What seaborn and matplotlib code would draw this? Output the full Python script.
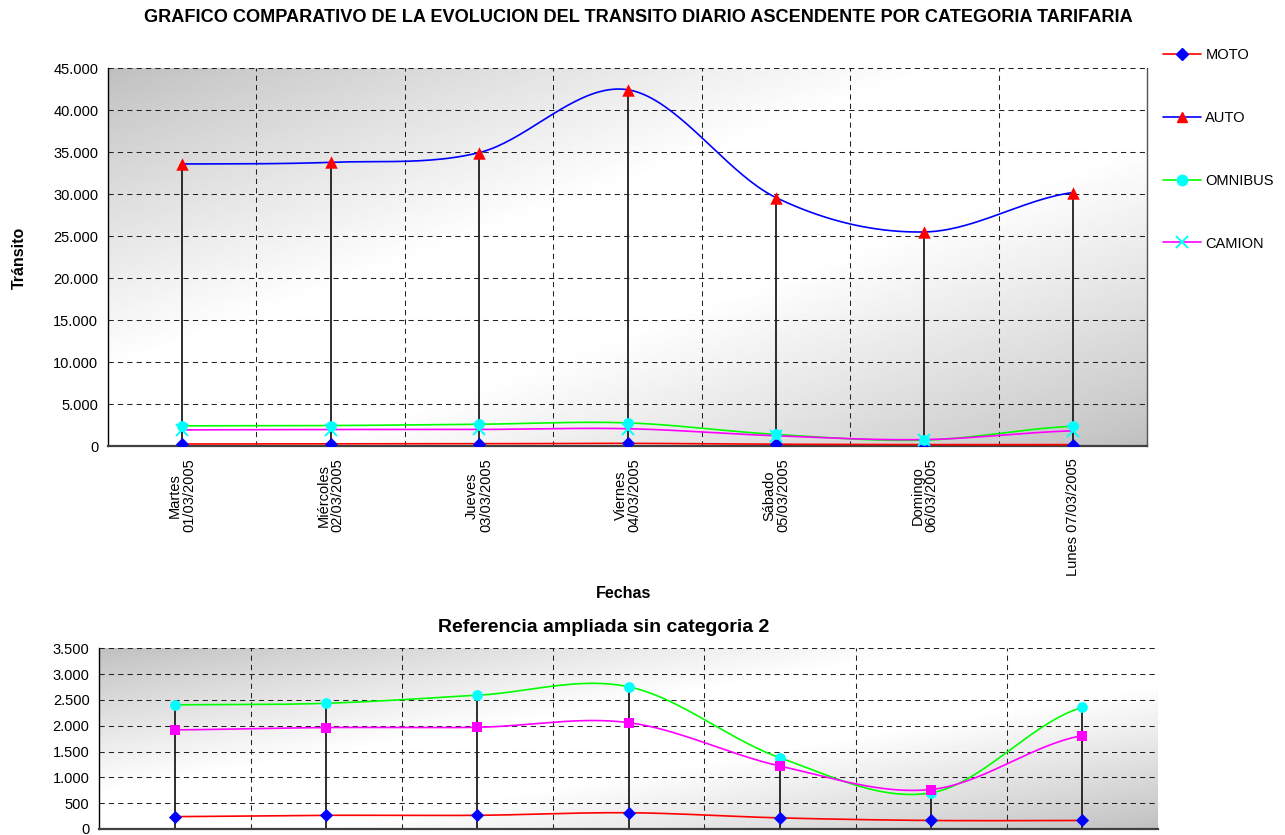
import numpy as np
import pandas as pd
import matplotlib
matplotlib.use("Agg")
import matplotlib.pyplot as plt
import seaborn as sns
from matplotlib.ticker import FuncFormatter, MultipleLocator, FixedLocator
from matplotlib.lines import Line2D

# ---- data -------------------------------------------------------------
dias = ["Martes\n01/03/2005", "Miércoles\n02/03/2005", "Jueves\n03/03/2005",
        "Viernes\n04/03/2005", "Sábado\n05/03/2005", "Domingo\n06/03/2005",
        "Lunes 07/03/2005"]
moto = [240, 265, 265, 315, 215, 165, 165]
auto = [33600, 33800, 34950, 42450, 29600, 25500, 30200]
omnibus = [2405, 2435, 2590, 2755, 1380, 700, 2355]
camion = [1920, 1965, 1970, 2060, 1220, 765, 1810]
categorias = ["MOTO", "AUTO", "OMNIBUS", "CAMION"]

# ---- style ------------------------------------------------------------
sns.set_style("white")
plt.rcParams["font.family"] = ["Liberation Sans", "DejaVu Sans"]
plt.rcParams["axes.linewidth"] = 1.0
for key in ("text.color", "axes.labelcolor", "xtick.color", "ytick.color"):
    plt.rcParams[key] = "black"

W, H = 1285, 835
fig = plt.figure(figsize=(W / 100, H / 100), dpi=100)
fig.patch.set_facecolor("white")

GRID = dict(color="#222222", lw=0.75, ls=(0, (5, 4)))


def smooth(values, n=40):
    """Catmull-Rom curve through the points, like a smoothed line chart."""
    y = np.asarray(values, float)
    p = np.concatenate([[y[0]], y, [y[-1]]])
    xs, ys = [], []
    t = np.linspace(0, 1, n, endpoint=False)
    h00 = 2 * t**3 - 3 * t**2 + 1
    h10 = t**3 - 2 * t**2 + t
    h01 = -2 * t**3 + 3 * t**2
    h11 = t**3 - t**2
    for i in range(len(y) - 1):
        p0, p1, p2, p3 = p[i], p[i + 1], p[i + 2], p[i + 3]
        m1 = (p2 - p0) / 2
        m2 = (p3 - p1) / 2
        ys.append(h00 * p1 + h10 * m1 + h01 * p2 + h11 * m2)
        xs.append(i + t)
    xs.append([len(y) - 1])
    ys.append([y[-1]])
    return np.concatenate(xs), np.concatenate(ys)


def gradient(ax, dark=0.75):
    nx, ny = 400, 200
    xn = np.linspace(0, 1, nx)[None, :]
    yn = np.linspace(0, 1, ny)[:, None]
    t = (xn + yn) / 2.0
    v = 1 - np.abs(2 * t - 1)
    img = dark + (1 - dark) * np.clip(v * 1.25, 0, 1) ** 0.9
    ax.imshow(img, cmap="gray", vmin=0, vmax=1, extent=[0, 1, 0, 1],
              transform=ax.transAxes, aspect="auto", zorder=0,
              interpolation="bilinear")


def miles(v, _):
    return f"{int(round(v)):,}".replace(",", ".")


def setup(ax, ymax, ystep):
    ax.set_xlim(-0.5, len(dias) - 0.5)
    ax.set_ylim(0, ymax)
    ax.yaxis.set_major_locator(MultipleLocator(ystep))
    ax.yaxis.set_major_formatter(FuncFormatter(miles))
    ax.xaxis.set_major_locator(FixedLocator(range(len(dias))))
    ax.xaxis.set_minor_locator(FixedLocator(np.arange(0.5, len(dias), 1)))
    ax.set_axisbelow(True)
    ax.yaxis.grid(True, which="major", **GRID)
    ax.xaxis.grid(True, which="minor", **GRID)
    ax.xaxis.grid(False, which="major")
    for s in ("top", "right"):
        ax.spines[s].set_visible(False)
    ax.spines["left"].set_color("black")
    ax.spines["bottom"].set_color("#404040")
    ax.spines["bottom"].set_linewidth(1.6)
    ax.tick_params(axis="y", which="major", length=4, width=0.8,
                   direction="out", labelsize=10.5, colors="black", pad=3)
    ax.tick_params(axis="x", which="major", length=0, labelcolor="black")
    ax.tick_params(axis="x", which="minor", length=4, width=0.8,
                   direction="out", color="#444444")
    ax.set_xlabel("")
    ax.set_ylabel("")
    gradient(ax)


def draw(ax, series, xs_idx):
    tops = np.max([s["vals"] for s in series], axis=0)
    ax.vlines(xs_idx, 0, tops, color="#1e1e1e", lw=1.3, zorder=2)
    for s in series:
        sx, sy = smooth(s["vals"])
        sns.lineplot(x=sx, y=sy, color=s["line"], lw=1.2, ax=ax,
                     estimator=None, sort=False, zorder=3)
    for s in series:
        if s["marker"] == "x":
            ax.plot(xs_idx, s["vals"], ls="none", marker="x", ms=8,
                    mew=1.4, color=s["mcolor"], zorder=4)
        else:
            sns.scatterplot(x=xs_idx, y=s["vals"], marker=s["marker"],
                            s=s["size"], color=s["mcolor"], linewidth=0,
                            ax=ax, zorder=4)


idx = np.arange(len(dias))

# ---- upper chart --------------------------------------------------------
ax1 = fig.add_axes([108 / W, 1 - 446 / H, (1147 - 108) / W, (446 - 68.3) / H])
setup(ax1, 45000, 5000)
ax1.spines["right"].set_visible(True)
ax1.spines["right"].set_color("#555555")
serie_top = [
    dict(vals=moto, line="#FF0000", marker="D", mcolor="#0000FF", size=45),
    dict(vals=auto, line="#0000FF", marker="^", mcolor="#FF0000", size=80),
    dict(vals=omnibus, line="#00FF00", marker="o", mcolor="#00FFFF", size=60),
    dict(vals=camion, line="#FF00FF", marker="x", mcolor="#00FFFF", size=50),
]
draw(ax1, serie_top, idx)
ax1.set_xticks(idx)
ax1.set_xticklabels(dias, rotation=90, fontsize=10.5, linespacing=1.0,
                    va="top", ha="center")
ax1.tick_params(axis="x", which="major", pad=9)

# ---- lower chart --------------------------------------------------------
ax2 = fig.add_axes([99.3 / W, 1 - 829 / H, (1158 - 99.3) / W, (829 - 648.3) / H])
setup(ax2, 3500, 500)
serie_low = [
    dict(vals=moto, line="#FF0000", marker="D", mcolor="#0000FF", size=45),
    dict(vals=omnibus, line="#00FF00", marker="o", mcolor="#00FFFF", size=60),
    dict(vals=camion, line="#FF00FF", marker="s", mcolor="#FF00FF", size=50),
]
draw(ax2, serie_low, idx)
ax2.set_xticks(idx)
ax2.set_xticklabels([])

# ---- texts ------------------------------------------------------------
fig.text(638 / W, 1 - 17 / H,
         "GRAFICO COMPARATIVO DE LA EVOLUCION DEL TRANSITO DIARIO ASCENDENTE POR CATEGORIA TARIFARIA",
         ha="center", va="center", fontsize=13.1, fontweight="heavy",
         color="black")
fig.text(19 / W, 1 - 258 / H, "Tránsito", rotation=90, ha="center",
         va="center", fontsize=11.5, fontweight="bold", color="black")
fig.text(624 / W, 1 - 594 / H, "Fechas", ha="center", va="center",
         fontsize=11.5, fontweight="bold", color="black")
fig.text(604 / W, 1 - 627 / H, "Referencia ampliada sin categoria 2",
         ha="center", va="center", fontsize=14, fontweight="bold",
         color="black")

# ---- legend -----------------------------------------------------------
handles = []
for s in serie_top:
    if s["marker"] == "x":
        h = Line2D([], [], color=s["line"], lw=1.2, marker="x", ms=8,
                   mew=1.4, mec=s["mcolor"])
    else:
        h = Line2D([], [], color=s["line"], lw=1.2, marker=s["marker"],
                   ms=7.5 if s["marker"] != "D" else 6.5,
                   mfc=s["mcolor"], mec=s["mcolor"])
    handles.append(h)
leg = fig.legend(handles, categorias, loc="upper left",
                 bbox_to_anchor=(1163 / W, 1 - 48 / H), frameon=False,
                 fontsize=10.5, handlelength=2.6, handletextpad=0.3,
                 labelspacing=3.35, borderaxespad=0, borderpad=0)
for txt in leg.get_texts():
    txt.set_color("black")

fig.savefig("out.png", dpi=100)
